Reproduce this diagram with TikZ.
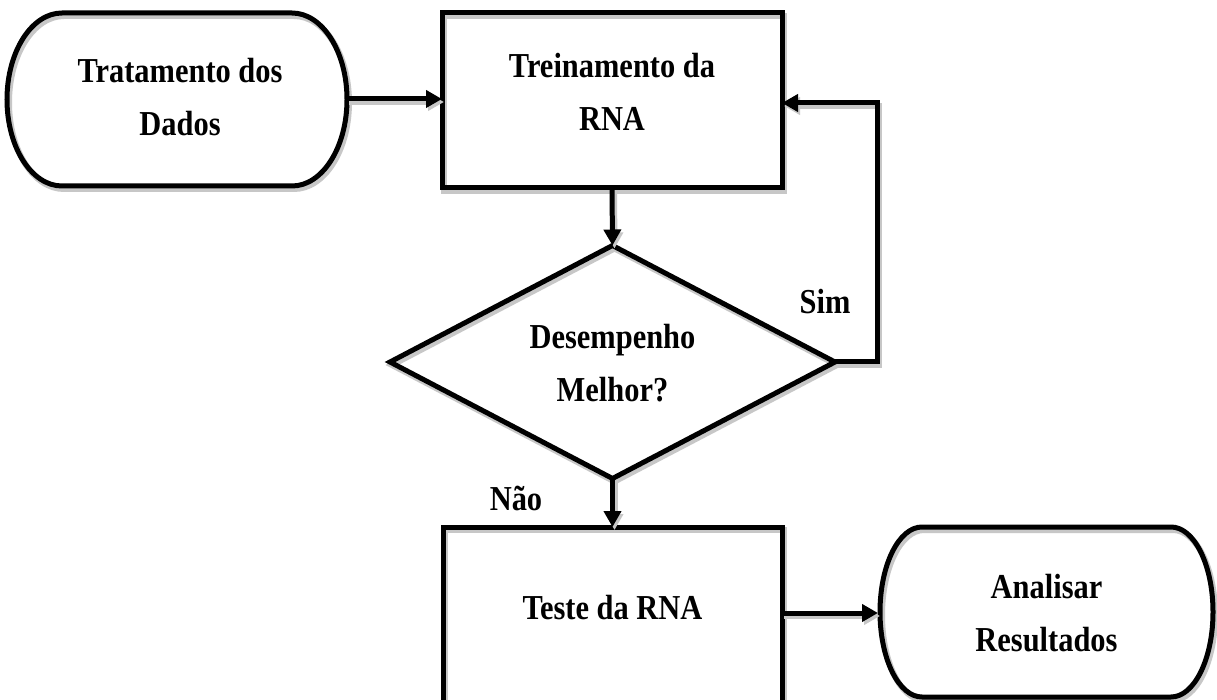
\documentclass[tikz,border=0pt]{standalone}
\usepackage{fontspec}
\setmainfont{Liberation Serif}
\usetikzlibrary{arrows.meta,shapes.geometric,calc}
\tikzset{
  lw/.style={line width=5pt, line join=miter},
  shad/.style={preaction={draw=black!22, line width=6pt, transform canvas={shift={(2pt,-3pt)}}}},
  tip/.style={-{Triangle[length=16pt,width=17pt]}},
  arr/.style={lw, shad, tip},
  txt/.style={font=\bfseries\fontsize{35}{53}\selectfont, align=center, inner sep=0pt, xscale=0.87, transform shape},
  boxshape/.style={rectangle, draw=none, inner sep=0pt, outer sep=0pt},
}
\begin{document}
\begin{tikzpicture}[x=1pt,y=1pt]
\useasboundingbox (0,0) rectangle (1217,699);
\clip (0,0) rectangle (1217,699);
\fill[white] (0,0) rectangle (1217,699);

% Tratamento dos Dados (terminal)
\node[boxshape, minimum width=340pt, minimum height=173pt] (trat) at (177,599.5) {};
\draw[lw, shad] ([xshift=55pt]trat.north west) -- ([xshift=-55pt]trat.north east)
  arc[start angle=90, end angle=-90, x radius=55pt, y radius=86.5pt]
  -- ([xshift=55pt]trat.south west)
  arc[start angle=270, end angle=90, x radius=55pt, y radius=86.5pt] -- cycle;
\node[txt] (tratT) at (180,601.5) {Tratamento dos\\Dados};

% Treinamento da RNA
\node[boxshape, draw, lw, shad, minimum width=340pt, minimum height=175pt] (trein) at (612,598.5) {};
\node[txt] (treinT) at (612,607.5) {Treinamento da\\RNA};

% Diamond
\node[diamond, draw, lw, shad, aspect=1.91, minimum width=445pt, minimum height=233pt, inner sep=0pt, outer sep=0pt] (dec) at (612.5,337) {};
\node[txt] (decT) at (612.5,335.5) {Desempenho\\Melhor?};

% Teste da RNA
\node[boxshape, draw, lw, shad, minimum width=339pt, minimum height=212pt] (teste) at (612.5,66) {};
\node[txt] (testeT) at (612.5,91.5) {Teste da RNA};

% Analisar Resultados (terminal)
\node[boxshape, minimum width=333pt, minimum height=170pt] (anal) at (1046.5,87) {};
\draw[lw, shad] ([xshift=42pt]anal.north west) -- ([xshift=-42pt]anal.north east)
  arc[start angle=90, end angle=-90, x radius=42pt, y radius=85pt]
  -- ([xshift=42pt]anal.south west)
  arc[start angle=270, end angle=90, x radius=42pt, y radius=85pt] -- cycle;
\node[txt] (analT) at (1046.5,85.5) {Analisar\\Resultados};

% Labels
\node[txt] (sim) at (825,397) {Sim};
\node[txt] (nao) at (516,201) {Não};

% Connectors
\coordinate (loopA) at (877,337);
\coordinate (loopB) at (877,596);
\draw[arr] (trat.east |- 0,600) -- (trein.west |- 0,600);
\draw[arr] (trein.south) -- (dec.north);
\draw[arr] (dec.east) -- (loopA) -- (loopB) -- (trein.east |- loopB);
\draw[arr] (dec.south) -- (teste.north);
\draw[arr] (teste.east |- 0,86) -- ([xshift=-2pt]anal.west |- 0,86);
\end{tikzpicture}
\end{document}
